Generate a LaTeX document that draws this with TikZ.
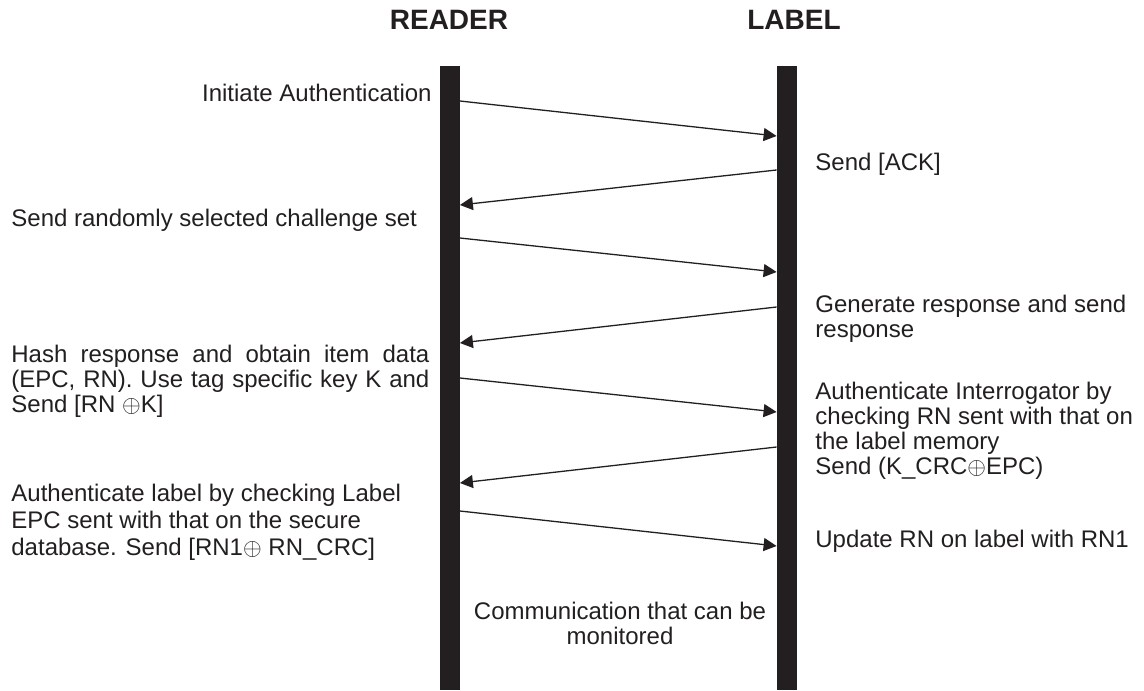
\documentclass[tikz,border=0pt]{standalone}
\usepackage{fontspec}
\setmainfont{Liberation Sans}
\usepackage{xcolor}
\usepackage{tikz}
\usetikzlibrary{arrows.meta, positioning}
\definecolor{ink}{RGB}{35,31,32}

\begin{document}
\begin{tikzpicture}[
    x=0.5pt, y=-0.5pt,
    lifeline/.style={
        rectangle, fill=ink, draw=none, inner sep=0pt,
        minimum width=10pt, minimum height=312pt, anchor=north
    },
    actor/.style={
        inner sep=0pt, text=ink,
        font=\fontsize{14}{16}\selectfont\bfseries
    },
    note/.style={
        inner sep=0pt, anchor=north west, align=left, text=ink,
        font=\fontsize{12}{12.5}\selectfont
    },
    msg/.style={-{Triangle[length=6.5pt, width=6.5pt]}, draw=ink, line width=0.65pt}
]
\useasboundingbox (0,0) rectangle (1144,690);

% 1. Lifelines (thick bars running down to the bottom edge)
\node[lifeline] (rbar) at (449.5, 66) {};
\node[lifeline] (lbar) at (787, 66) {};

% 2. Party names above the bars
\node[actor] (reader) at (449, 20) {READER};
\node[actor] (label) at (794, 20) {LABEL};

% 3. Reader side notes
\node[note, anchor=north east, align=right] (init) at (432, 84) {Initiate Authentication};
\node[note] (chal) at (11, 209) {Send randomly selected challenge set};
\node[note, text width=209pt, align=justify] (hash) at (11, 345) {
    Hash response and obtain item data
    (EPC, RN). Use tag specific key K and
    Send [RN $\oplus$K]
};
\node[note, font=\fontsize{12}{13.5}\selectfont] (authl) at (11, 484) {
    Authenticate label by checking Label \\
    EPC sent with that on the secure \\
    database. Send [RN1$\oplus$ RN\_CRC]
};

% 4. Label side notes
\node[note] (ack) at (815, 153) {Send [ACK]};
\node[note] (gen) at (815, 295) {
    Generate response and send \\
    response
};
\node[note] (authi) at (815, 382) {
    Authenticate Interrogator by \\
    checking RN sent with that on \\
    the label memory \\
    Send (K\_CRC$\oplus$EPC)
};
\node[note] (upd) at (815, 530) {Update RN on label with RN1};

% 5. Caption between the bars
\node[note, anchor=north, align=center] (mon) at (620, 602) {
    Communication that can be \\
    monitored
};

% 6. Messages, alternating reader -> label and label -> reader
\draw[msg] (rbar.east |- 0,101) -- (lbar.west |- 0,136);
\draw[msg] (lbar.west |- 0,170) -- (rbar.east |- 0,205);
\draw[msg] (rbar.east |- 0,238) -- (lbar.west |- 0,272);
\draw[msg] (lbar.west |- 0,307) -- (rbar.east |- 0,343);
\draw[msg] (rbar.east |- 0,378) -- (lbar.west |- 0,412);
\draw[msg] (lbar.west |- 0,447) -- (rbar.east |- 0,483);
\draw[msg] (rbar.east |- 0,511) -- (lbar.west |- 0,546);

\end{tikzpicture}
\end{document}
